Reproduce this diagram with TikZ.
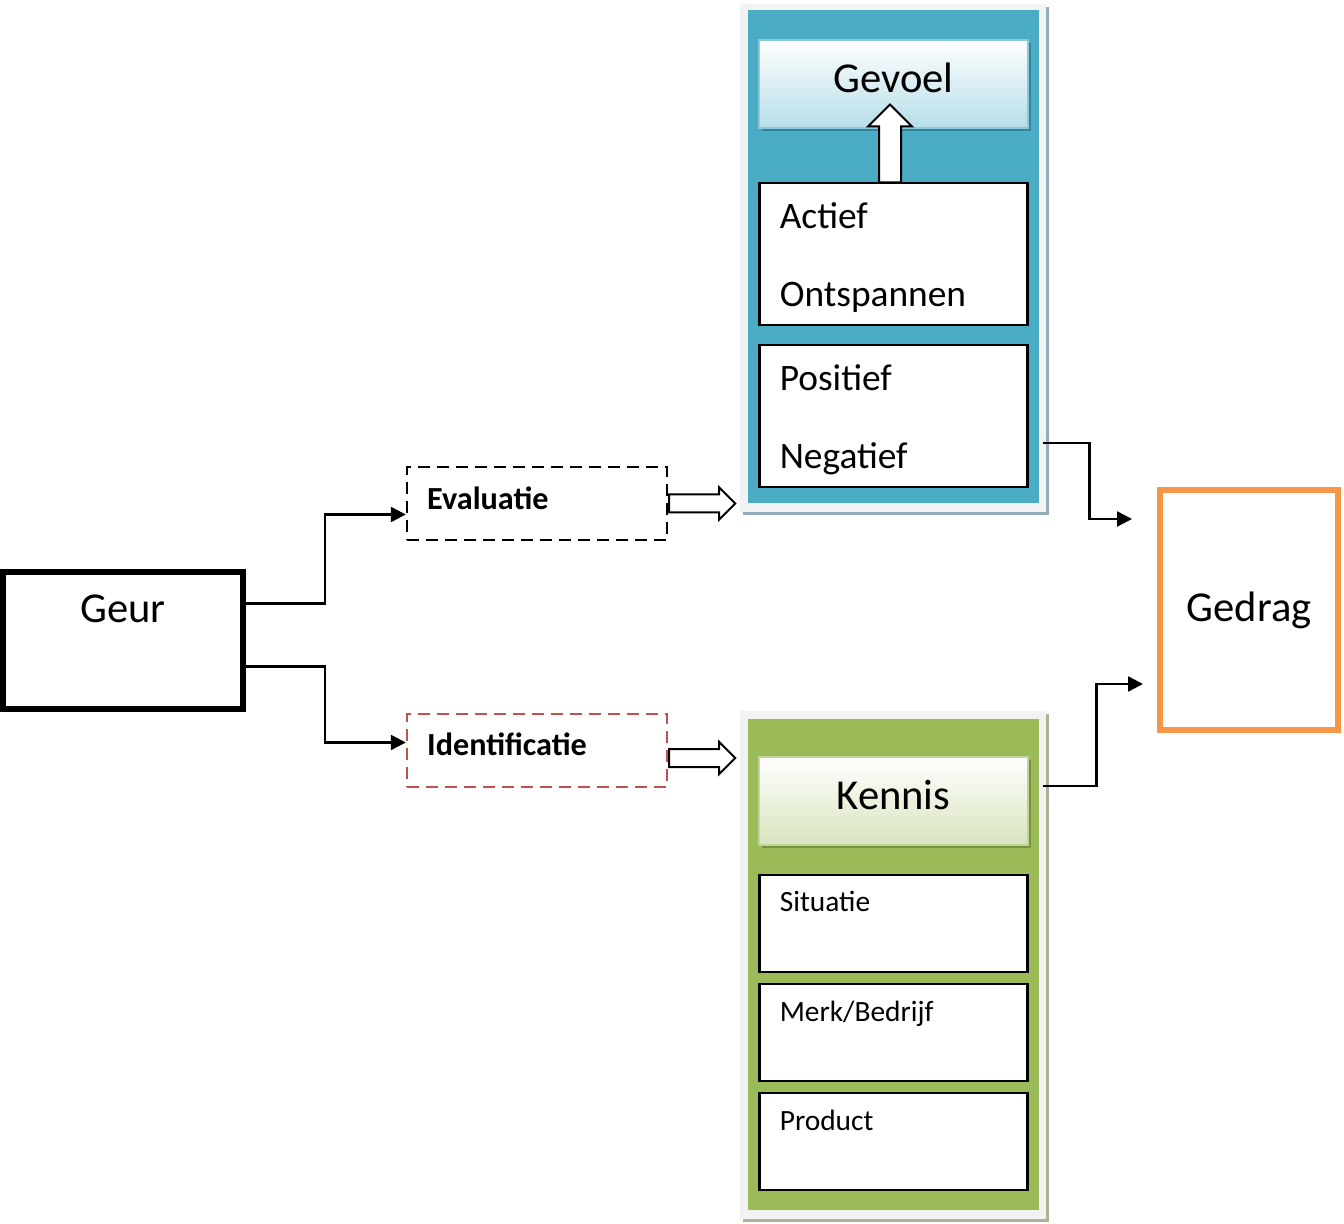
\documentclass[tikz,border=0pt]{standalone}
\usepackage{fontspec}
\setmainfont{Carlito}
\usetikzlibrary{arrows.meta,shapes,shadows,calc,positioning}
\definecolor{gevblue}{HTML}{4BACC6}
\definecolor{gevlight}{HTML}{B7DDE8}
\definecolor{gevdark}{HTML}{31859C}
\definecolor{gevgray}{HTML}{93AEBA}
\definecolor{kengreen}{HTML}{9BBB59}
\definecolor{kenlight}{HTML}{D7E4BD}
\definecolor{kendark}{HTML}{76923C}
\definecolor{kengray}{HTML}{A9B496}
\definecolor{idred}{HTML}{C0504D}
\definecolor{gedorange}{HTML}{F79646}
\definecolor{framegray}{HTML}{F2F2F2}
\tikzstyle{conn}=[draw,-{Triangle[length=7.5pt,width=7.5pt]},line width=1.2pt]
\tikzstyle{bigtxt}=[font=\fontsize{21.3}{26}\selectfont]
\tikzstyle{midtxt}=[font=\fontsize{18.7}{22}\selectfont,anchor=base west,inner sep=0pt]
\tikzstyle{smalltxt}=[font=\fontsize{14.7}{17}\selectfont,anchor=base west,inner sep=0pt]
\tikzstyle{boldtxt}=[font=\fontsize{16.1}{19}\selectfont\bfseries,anchor=base west,inner sep=0pt]
\tikzstyle{txtbox}=[rectangle,draw,fill=white,line width=1.1pt,minimum width=134pt,inner sep=0pt]
\tikzstyle{dashbox}=[rectangle,draw,line width=1.2pt,dash pattern=on 6pt off 3.5pt,minimum width=130pt,minimum height=36.5pt]
\tikzstyle{blockarrow}=[single arrow,draw,fill=white,line width=1pt,inner sep=4pt,single arrow head extend=3.5pt,minimum height=33pt]
\tikzstyle{frame}=[rectangle,fill=framegray,minimum width=153pt,minimum height=254pt]

\begin{document}
\begin{tikzpicture}[x=0.5pt,y=-0.5pt]
\useasboundingbox (0,0) rectangle (1344,1224);

% Geur
\node [rectangle,draw,line width=3pt,minimum width=120pt,minimum height=68.5pt] (geur) at (123,640.5) {};
\node [bigtxt] (geurtxt) at ($(geur.north)+(0,40)$) {Geur};

% Evaluatie / Identificatie
\node [dashbox] (eval) at (537,503.5) {};
\node [boldtxt] (evaltxt) at ($(eval.west)+(21,6.5)$) {Evaluatie};
\node [dashbox,draw=idred] (ident) at (537,750.5) {};
\node [boldtxt] (identtxt) at ($(ident.west)+(21,4.5)$) {Identificatie};
\node [blockarrow,right=0pt of eval] (evalarr) {};
\node [blockarrow,anchor=west] (identarr) at ($(ident.east)+(0,7.5)$) {};

% Gevoel
\node [frame,drop shadow={shadow xshift=1.5pt,shadow yshift=-1.5pt,fill=gevgray,opacity=1}] (gevframe) at (893,258) {};
\node [rectangle,fill=gevblue,minimum width=145.5pt,minimum height=246.5pt] (gevpanel) at (893.5,256.5) {};
\node [rectangle,draw=gevlight!60!gevblue,line width=0.8pt,top color=white,bottom color=gevlight,
       minimum width=134.5pt,minimum height=44pt,text depth=6pt,bigtxt,
       drop shadow={shadow xshift=1.5pt,shadow yshift=-1.5pt,fill=gevdark,opacity=1}] (gevhead) at (893.5,84) {Gevoel};
\node [txtbox,minimum height=71pt,below=26.5pt of gevhead] (actbox) {};
\node [txtbox,minimum height=71pt,below=9pt of actbox] (posbox) {};
\node [midtxt] (actief) at ($(actbox.north west)+(21,47)$) {Actief};
\node [midtxt] (ontsp) at ($(actbox.north west)+(21,125)$) {Ontspannen};
\node [midtxt] (posit) at ($(posbox.north west)+(21,47)$) {Positief};
\node [midtxt] (negat) at ($(posbox.north west)+(21,125)$) {Negatief};
\node [single arrow,draw,fill=white,line width=1pt,inner sep=5pt,single arrow head extend=5.5pt,
       minimum height=39pt,shape border rotate=90] (uparr) at (890,149) {};

% Kennis
\node [frame,drop shadow={shadow xshift=1.5pt,shadow yshift=-1.5pt,fill=kengray,opacity=1}] (kenframe) at (893,965) {};
\node [rectangle,fill=kengreen,minimum width=145.5pt,minimum height=245.5pt] (kenpanel) at (893.5,964.5) {};
\node [rectangle,draw=kenlight!60!kengreen,line width=0.8pt,top color=white,bottom color=kenlight,
       minimum width=134.5pt,minimum height=44pt,text depth=6pt,bigtxt,
       drop shadow={shadow xshift=1.5pt,shadow yshift=-1.5pt,fill=kendark,opacity=1}] (kenhead) at (893.5,801) {Kennis};
\node [txtbox,minimum height=48.5pt,below=14pt of kenhead] (sitbox) {};
\node [txtbox,minimum height=48.5pt,below=5pt of sitbox] (merkbox) {};
\node [txtbox,minimum height=48.5pt,below=5pt of merkbox] (prodbox) {};
\node [smalltxt] (situatie) at ($(sitbox.north west)+(21,38)$) {Situatie};
\node [smalltxt] (merk) at ($(merkbox.north west)+(21,38)$) {Merk/Bedrijf};
\node [smalltxt] (product) at ($(prodbox.north west)+(21,38)$) {Product};

% Gedrag
\node [rectangle,draw=gedorange,line width=3pt,minimum width=89pt,minimum height=120pt,bigtxt] (gedrag) at (1249,610) {Gedrag};

% connectors
\draw [conn] ($(geur.east)+(0,-37)$) -- ++(79,0) |- ($(eval.west)+(0,11)$);
\draw [conn] ($(geur.east)+(0,26)$) -- ++(79,0) |- ($(ident.west)+(0,-8)$);
\draw [conn] ($(gevframe.east)+(-3,185)$) -- ++(46,0) |- ($(gedrag.west)+(-25,-91)$);
\draw [conn] ($(kenframe.east)+(-3,-179)$) -- ++(53,0) |- ($(gedrag.west)+(-14,74)$);
\end{tikzpicture}
\end{document}
